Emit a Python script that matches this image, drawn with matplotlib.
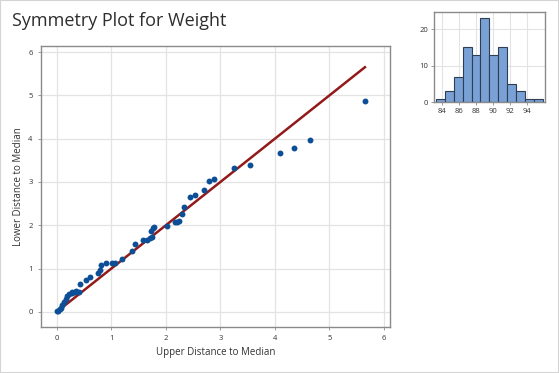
import matplotlib
matplotlib.use("Agg")
import matplotlib.pyplot as plt
from matplotlib.patches import Rectangle

plt.rcParams['font.family'] = ['Open Sans', 'DejaVu Sans']

# symmetry plot pairs (upper / lower distance to median)
upper_dist = [0.01, 0.03, 0.06, 0.08, 0.10, 0.13, 0.16, 0.19, 0.23, 0.27,
              0.28, 0.33, 0.36, 0.40, 0.43, 0.54, 0.60, 0.76, 0.79, 0.81,
              0.91, 1.02, 1.06, 1.20, 1.38, 1.44, 1.58, 1.65, 1.70, 1.74,
              1.72, 1.76, 1.79, 2.02, 2.17, 2.21, 2.25, 2.30, 2.34, 2.45,
              2.54, 2.70, 2.79, 2.89, 3.25, 3.54, 4.10, 4.35, 4.64, 5.65]
lower_dist = [0.01, 0.02, 0.06, 0.10, 0.15, 0.22, 0.30, 0.37, 0.42, 0.44,
              0.45, 0.47, 0.49, 0.46, 0.64, 0.74, 0.80, 0.89, 0.97, 1.08,
              1.12, 1.13, 1.12, 1.23, 1.40, 1.56, 1.65, 1.67, 1.70, 1.72,
              1.87, 1.94, 1.97, 1.99, 2.07, 2.08, 2.09, 2.26, 2.42, 2.65,
              2.70, 2.81, 3.02, 3.06, 3.33, 3.39, 3.67, 3.78, 3.96, 4.87]
ref_line = [0.12, 5.65]

# histogram of Weight
bin_edges = [83.3, 84.35, 85.4, 86.45, 87.5, 88.55, 89.6, 90.65, 91.7,
             92.75, 93.8, 94.85, 95.9]
counts = [1, 3, 7, 15, 13, 23, 13, 15, 5, 3, 1, 1]

txt = '#333333'
grid_c = '#e3e3e3'
spine_c = '#8a8a8a'

fig = plt.figure(figsize=(5.59, 3.73), dpi=100)
fig.patches.append(Rectangle((0, 0), 1, 1, transform=fig.transFigure,
                             fill=False, edgecolor='#d4d4d4', lw=1.5))
fig.text(0.021, 0.945, 'Symmetry Plot for Weight', fontsize=13,
         color='#2e2e2e', ha='left', va='center')

ax = fig.add_axes([0.0733, 0.1233, 0.6244, 0.7534])
ax.plot(ref_line, ref_line, color='#921a1a', lw=1.8, zorder=2)
ax.scatter(upper_dist, lower_dist, s=18, color='#0d4f97', zorder=3,
           linewidths=0)
ax.set_xlim(-0.29, 6.11)
ax.set_ylim(-0.35, 6.14)
ax.set_xticks(range(7))
ax.set_yticks(range(7))
ax.grid(True, color=grid_c, lw=0.9)
ax.set_axisbelow(True)
ax.tick_params(labelsize=5.5, colors=txt, length=2.5, width=0.6,
               color=spine_c)
ax.set_xlabel('Upper Distance to Median', fontsize=7, color=txt, labelpad=3)
ax.set_ylabel('Lower Distance to Median', fontsize=7, color=txt, labelpad=3)
for s in ax.spines.values():
    s.set_color(spine_c)
    s.set_linewidth(1.0)

hx = fig.add_axes([0.7764, 0.7257, 0.1991, 0.2421])
widths = [b - a for a, b in zip(bin_edges[:-1], bin_edges[1:])]
hx.bar(bin_edges[:-1], counts, width=widths, align='edge',
       color='#7aa1d5', edgecolor='#2e3e55', lw=0.8, zorder=2)
hx.set_xlim(83.1, 96.15)
hx.set_ylim(0, 24.7)
hx.set_xticks([84, 86, 88, 90, 92, 94])
hx.set_yticks([0, 10, 20])
hx.grid(True, color=grid_c, lw=0.8)
hx.set_axisbelow(True)
hx.tick_params(labelsize=5.5, colors=txt, length=2, width=0.6,
               color=spine_c, pad=2)
for s in hx.spines.values():
    s.set_color(spine_c)
    s.set_linewidth(1.0)

fig.savefig('out.png', dpi=100)
